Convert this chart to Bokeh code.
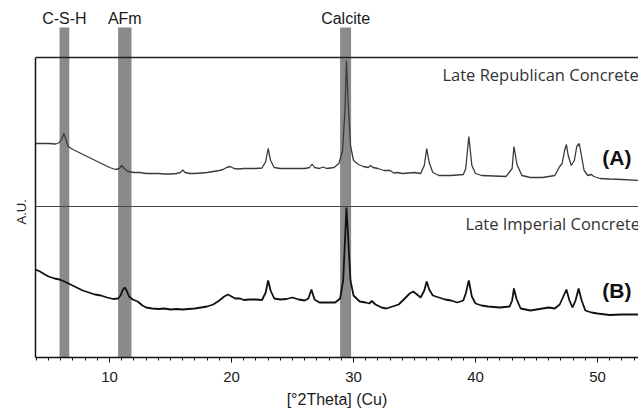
from bokeh.plotting import figure
from bokeh.models import Span, SingleIntervalTicker, FixedTicker, Range1d, Title
from bokeh.core.properties import value
from bokeh.embed import file_html
from bokeh.resources import INLINE

# ---- data ----
two_theta_a = [3.93, 5.0, 5.6, 5.9, 6.1, 6.25, 6.4, 6.6, 7.0, 7.5, 8.0, 8.5, 9.0, 9.5, 10.0,
               10.5, 10.8, 11.0, 11.2, 11.5, 12.0, 12.5, 13.0, 13.5, 14.0, 14.5, 15.0, 15.5,
               15.8, 16.0, 16.2, 16.6, 17.0, 17.5, 18.0, 18.5, 19.0, 19.3, 19.6, 19.9, 20.2,
               20.6, 21.0, 21.5, 22.0, 22.5, 22.8, 23.0, 23.2, 23.5, 24.0, 25.0, 26.0, 26.4,
               26.6, 26.8, 27.2, 27.5, 27.8, 28.4, 28.8, 29.1, 29.3, 29.42, 29.55, 29.75, 30.0,
               30.4, 30.8, 31.2, 31.4, 31.6, 32.0, 32.5, 33.0, 33.3, 33.6, 34.0, 34.5, 35.0,
               35.5, 35.8, 36.0, 36.2, 36.5, 37.0, 38.0, 38.5, 39.0, 39.2, 39.45, 39.7, 40.0,
               40.5, 41.5, 42.5, 43.0, 43.15, 43.4, 43.8, 44.5, 45.5, 46.5, 46.9, 47.1, 47.3,
               47.45, 47.6, 47.85, 48.1, 48.3, 48.5, 48.65, 48.9, 49.2, 49.5, 49.7, 50.2, 51.0,
               52.0, 53.4]
intensity_a = [64, 64, 63.5, 65, 69, 74, 69, 61, 58, 55, 52, 49, 46, 43, 40,
               38, 39, 42, 39, 36, 35, 35, 34, 34, 34, 33.5, 33.5, 34,
               35, 37.5, 35, 34, 34, 34.5, 35, 36, 37, 38, 40, 41, 39,
               38.5, 39, 39, 39, 39.5, 46, 59, 47, 40, 39, 39, 39, 40,
               43.5, 40, 39, 40.5, 39, 40, 44, 57, 97, 147, 107, 62, 47,
               43, 41, 40, 42, 40, 39, 37, 37, 34.5, 35, 34, 34.5, 35,
               34, 42, 59, 45, 35, 32, 32, 32.5, 33, 39, 71, 42, 34,
               32, 31.5, 31, 39, 61, 43, 32, 30, 30, 32, 41, 44, 57,
               63, 52, 42, 47, 61, 64, 54, 37, 32, 33, 31, 29, 28.5,
               28, 27]

two_theta_b = [3.93, 4.3, 4.7, 5.0, 5.5, 5.9, 6.3, 6.8, 7.3, 7.8, 8.3, 8.8, 9.3, 9.8, 10.3,
               10.7, 10.9, 11.1, 11.25, 11.4, 11.6, 11.9, 12.3, 12.7, 13.0, 13.5, 14.0, 14.5,
               15.0, 15.5, 16.0, 16.5, 17.0, 17.5, 18.0, 18.5, 19.0, 19.4, 19.7, 20.0, 20.3,
               20.7, 21.0, 21.5, 22.0, 22.5, 22.8, 23.0, 23.2, 23.5, 24.0, 24.5, 25.0, 25.5,
               26.0, 26.3, 26.55, 26.8, 27.2, 28.0, 28.5, 28.9, 29.15, 29.3, 29.42, 29.55,
               29.75, 30.0, 30.5, 31.0, 31.3, 31.5, 31.8, 32.3, 32.7, 33.2, 33.7, 34.2, 34.6,
               34.9, 35.2, 35.5, 35.8, 36.0, 36.2, 36.5, 37.0, 37.5, 38.0, 38.5, 39.0, 39.2,
               39.45, 39.7, 40.0, 40.5, 41.0, 42.0, 42.8, 43.0, 43.15, 43.35, 43.7, 44.5, 45.0,
               45.5, 46.0, 46.5, 46.9, 47.2, 47.45, 47.7, 47.95, 48.2, 48.45, 48.7, 49.0, 49.5,
               50.0, 51.0, 52.0, 53.4]
intensity_b = [88, 86, 83, 81, 79, 78, 76, 73, 70, 67, 65, 63, 62, 60, 58.5,
               59, 62, 68, 70, 67, 61, 58, 56, 52, 50, 49, 48.5, 49,
               48, 48.5, 48, 48.5, 49, 50, 51, 53, 57, 61, 63, 61, 59,
               59, 57.5, 58, 58, 57.5, 65, 77, 67, 59, 58, 58.5, 60, 58,
               57, 59, 68, 58, 55, 55, 55, 59, 77, 117, 150, 122,
               77, 62, 56, 55, 54, 56.5, 53, 50, 49, 51, 53, 59, 64,
               66, 63, 60, 67, 76, 68, 62, 60, 58, 57, 55, 57, 64,
               77, 61, 54, 52, 51, 50, 51, 57, 69, 59, 49, 47, 48,
               49, 50, 49, 53, 61, 68, 57, 50, 57, 69, 57, 47, 45,
               44, 42.5, 43, 43]

phases = ["C-S-H", "AFm", "Calcite"]
band_lo = [5.9, 10.7, 28.9]
band_hi = [6.7, 11.8, 29.8]

samples = ["Late Republican Concrete", "Late Imperial Concrete"]
tags = ["(A)", "(B)"]

# ---- layout constants ----
OFFSET_A = 150
OFFSET_B = 0
ARIAL = value("Liberation Sans")

p = figure(width=638, height=410, x_range=Range1d(3.93, 53.36), y_range=Range1d(0, 357),
           output_backend="svg", toolbar_location=None,
           min_border_left=35, min_border_right=0, min_border_top=0, min_border_bottom=53)
p.grid.visible = False
p.outline_line_color = None
p.background_fill_color = "white"
p.border_fill_color = "white"

# reference bands
p.quad(left=band_lo, right=band_hi, bottom=0, top=330, fill_color="#8a8a8a", line_color=None)
p.text(x=[(a + b) / 2 for a, b in zip(band_lo, band_hi)], y=[339] * 3, text=phases,
       text_font=ARIAL, text_font_size="16px", text_color="#1a1a1a",
       text_align="center", text_baseline="middle")

# patterns
p.line(two_theta_a, [v + OFFSET_A for v in intensity_a], line_color="#3a3a3a", line_width=1.3)
p.line(two_theta_b, [v + OFFSET_B for v in intensity_b], line_color="#111111", line_width=1.8)

# frame top and separator
p.add_layout(Span(location=300, dimension="width", line_color="#222222", line_width=1.5))
p.add_layout(Span(location=151, dimension="width", line_color="#444444", line_width=1.2))

# sample labels
p.text(x=[37.29, 39.18], y=[283, 134], text=samples, text_font=value("Open Sans"),
       text_font_size="16.5px", text_color="#333333", text_align="left", text_baseline="middle")
p.text(x=[52.78, 52.78], y=[200, 67], text=tags, text_font=ARIAL, text_font_style="bold",
       text_font_size="21px", text_color="#111111", text_align="right", text_baseline="middle")

# x axis
xa = p.xaxis[0]
xa.ticker = SingleIntervalTicker(interval=10, num_minor_ticks=10)
xa.axis_label = "[°2Theta] (Cu)"
xa.axis_label_text_font = "Liberation Sans"
xa.axis_label_text_font_style = "normal"
xa.axis_label_text_font_size = "16px"
xa.axis_label_text_color = "#1a1a1a"
xa.axis_label_standoff = 6
xa.major_label_text_font = "Liberation Sans"
xa.major_label_text_font_size = "15px"
xa.major_label_text_color = "#1a1a1a"
xa.major_label_standoff = 9
xa.axis_line_color = "#111111"
xa.axis_line_width = 1.5
xa.major_tick_line_color = "#111111"
xa.minor_tick_line_color = "#111111"
xa.major_tick_in = 0
xa.major_tick_out = 5
xa.minor_tick_in = 0
xa.minor_tick_out = 3

# y axis (only the frame line)
ya = p.yaxis[0]
ya.ticker = FixedTicker(ticks=[])
ya.bounds = (0, 300)
ya.axis_line_color = "#111111"
ya.axis_line_width = 1.5
ya.major_tick_in = 0
ya.major_tick_out = 0
ya.minor_tick_in = 0
ya.minor_tick_out = 0

# y label, centred on the framed part of the axis
p.add_layout(Title(text="A.U.", align="left", offset=133, standoff=14,
                   text_font="Liberation Sans", text_font_style="normal",
                   text_font_size="13px", text_color="#1a1a1a"), "left")

open("out.html", "w").write(file_html(p, INLINE))
